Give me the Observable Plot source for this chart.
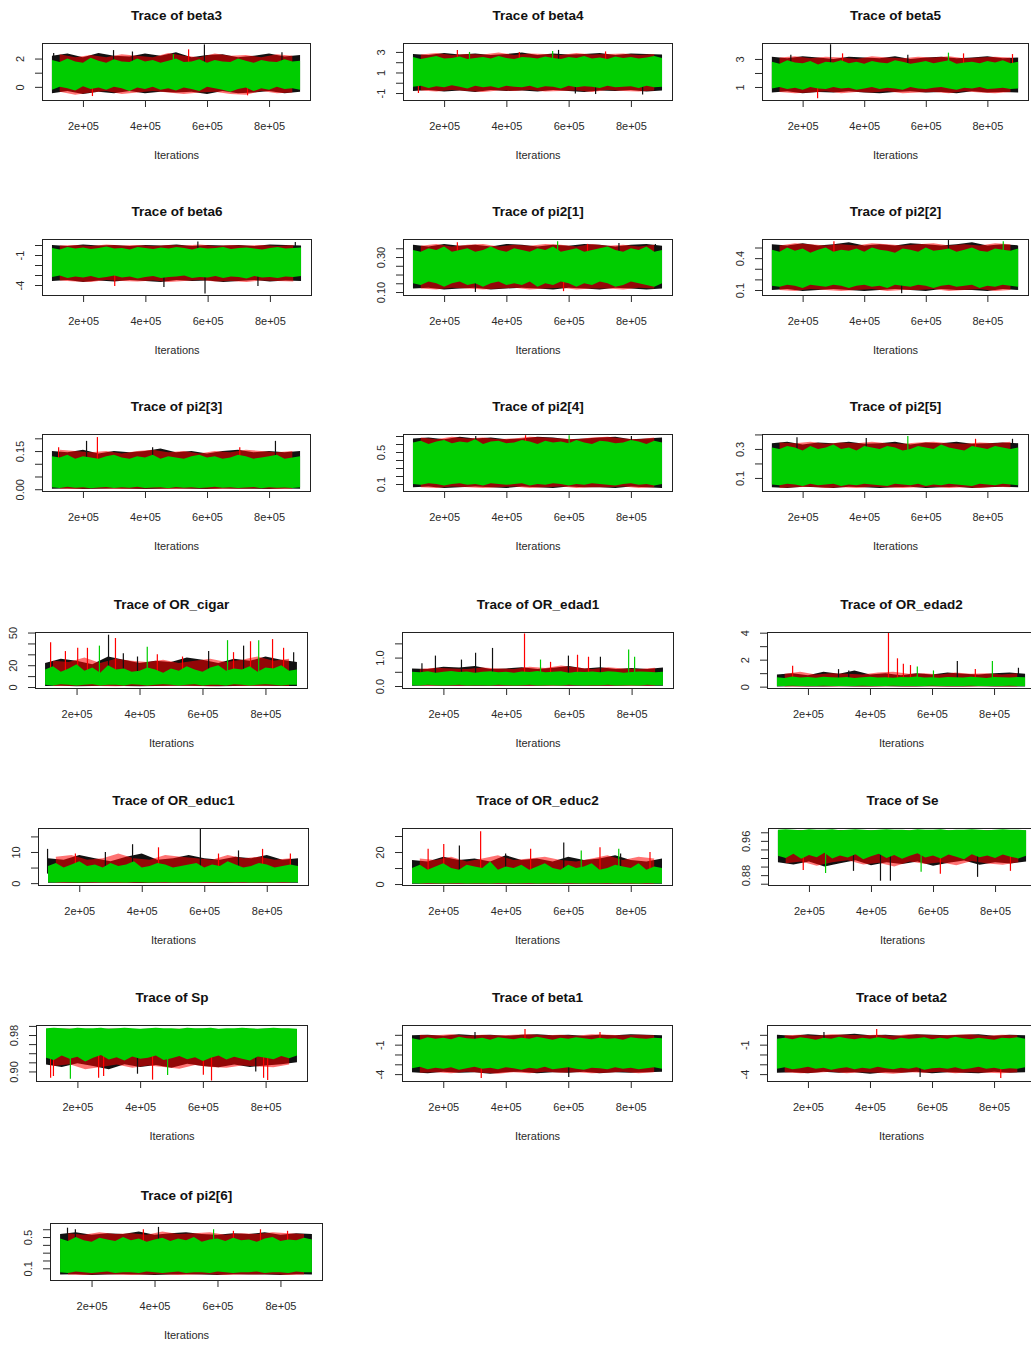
<!DOCTYPE html>
<html><head><meta charset="utf-8">
<script src="https://cdn.jsdelivr.net/npm/d3@7"></script>
<script src="https://cdn.jsdelivr.net/npm/@observablehq/plot@0.6"></script>
<style>
html,body{margin:0;padding:0;background:#fff}
body{width:1031px;height:1345px;overflow:hidden;position:relative;font-family:"Liberation Sans",Arial,sans-serif}
</style></head><body>
<script>
// ---------- DATA ----------
const titles = ["Trace of beta3","Trace of beta4","Trace of beta5","Trace of beta6","Trace of pi2[1]","Trace of pi2[2]","Trace of pi2[3]","Trace of pi2[4]","Trace of pi2[5]","Trace of OR_cigar","Trace of OR_edad1","Trace of OR_edad2","Trace of OR_educ1","Trace of OR_educ2","Trace of Se","Trace of Sp","Trace of beta1","Trace of beta2","Trace of pi2[6]"];

// iteration positions of the sampled envelope values
const iterGreen = [100000,125000,150000,175000,200000,225000,250000,275000,300000,325000,350000,375000,400000,425000,450000,475000,500000,525000,550000,575000,600000,625000,650000,675000,700000,725000,750000,775000,800000,825000,850000,875000,900000];
const iterBlack = [100000,150000,200000,250000,300000,350000,400000,450000,500000,550000,600000,650000,700000,750000,800000,850000,900000];
const iterRed = [125000,175000,225000,275000,325000,375000,425000,475000,525000,575000,625000,675000,725000,775000,825000,875000];
const xTicks = [200000,400000,600000,800000];
const chainColors = ["#111111","#ff0000","#00cd00"];

const greenHi = [
 [1.9,1.75,2.0,1.8,1.7,2.05,1.85,1.7,1.95,1.8,1.75,2.0,1.8,1.9,1.7,1.85,2.0,1.75,1.8,1.95,1.7,1.9,1.8,1.75,2.0,1.85,1.7,1.9,1.8,1.75,1.95,1.8,1.85],
 [2.5,2.3,2.45,2.6,2.35,2.4,2.55,2.3,2.4,2.5,2.35,2.6,2.4,2.3,2.5,2.45,2.35,2.55,2.4,2.3,2.5,2.4,2.6,2.35,2.45,2.3,2.55,2.4,2.5,2.35,2.45,2.6,2.4],
 [2.8,2.65,2.9,2.75,2.7,2.85,2.6,2.8,2.75,2.9,2.7,2.8,2.65,2.85,2.75,2.7,2.9,2.8,2.65,2.75,2.85,2.7,2.8,2.9,2.65,2.75,2.8,2.7,2.85,2.75,2.9,2.7,2.8],
 [-0.3,-0.45,-0.2,-0.35,-0.25,-0.4,-0.3,-0.15,-0.35,-0.3,-0.45,-0.2,-0.3,-0.4,-0.25,-0.35,-0.2,-0.3,-0.45,-0.25,-0.35,-0.3,-0.2,-0.4,-0.3,-0.25,-0.35,-0.45,-0.3,-0.2,-0.35,-0.3,-0.25],
 [0.34,0.33,0.35,0.34,0.36,0.33,0.34,0.35,0.33,0.34,0.36,0.34,0.33,0.35,0.34,0.33,0.35,0.34,0.36,0.33,0.34,0.35,0.33,0.34,0.35,0.36,0.34,0.33,0.35,0.34,0.36,0.33,0.34],
 [0.48,0.46,0.5,0.47,0.49,0.45,0.48,0.5,0.46,0.48,0.47,0.49,0.46,0.5,0.48,0.47,0.45,0.49,0.48,0.46,0.5,0.47,0.48,0.49,0.46,0.48,0.5,0.47,0.46,0.49,0.48,0.47,0.49],
 [0.13,0.125,0.135,0.12,0.13,0.125,0.12,0.13,0.135,0.125,0.12,0.13,0.125,0.135,0.12,0.13,0.125,0.12,0.13,0.135,0.125,0.13,0.12,0.125,0.135,0.13,0.12,0.125,0.13,0.135,0.12,0.125,0.13],
 [0.62,0.64,0.6,0.63,0.65,0.61,0.63,0.62,0.66,0.6,0.63,0.64,0.61,0.62,0.65,0.63,0.6,0.64,0.62,0.63,0.61,0.65,0.62,0.6,0.64,0.63,0.61,0.62,0.65,0.63,0.6,0.64,0.62],
 [0.31,0.3,0.32,0.31,0.29,0.32,0.3,0.31,0.33,0.3,0.31,0.29,0.32,0.31,0.3,0.32,0.31,0.29,0.3,0.32,0.31,0.3,0.33,0.31,0.3,0.29,0.32,0.31,0.3,0.32,0.31,0.3,0.31],
 [16,19,14,17,21,15,18,13,20,16,17,14,15,18,16,13,17,15,19,16,14,18,20,15,17,16,19,14,18,17,20,15,16],
 [0.5,0.48,0.52,0.47,0.5,0.53,0.49,0.51,0.47,0.5,0.52,0.48,0.5,0.47,0.51,0.49,0.53,0.48,0.5,0.52,0.47,0.5,0.49,0.51,0.48,0.52,0.5,0.47,0.49,0.51,0.5,0.48,0.5],
 [0.7,0.65,0.75,0.68,0.72,0.66,0.74,0.7,0.68,0.72,0.65,0.7,0.74,0.68,0.7,0.66,0.72,0.7,0.75,0.68,0.7,0.66,0.72,0.7,0.68,0.74,0.7,0.65,0.72,0.7,0.68,0.72,0.7],
 [5.5,6.5,5,6,7,5.5,6,5,6.5,5.5,6,7,5,5.5,6.5,6,5,5.5,6,6.5,5,6,5.5,7,6,5,5.5,6.5,6,5,5.5,6,5.5],
 [10,12,9,11,13,10,9,12,11,10,14,9,11,10,12,9,11,13,10,9,12,10,11,13,9,10,12,11,10,13,9,11,10],
 [0.986,0.987,0.986,0.985,0.987,0.986,0.986,0.987,0.985,0.986,0.987,0.986,0.985,0.986,0.987,0.986,0.986,0.985,0.987,0.986,0.986,0.987,0.985,0.986,0.986,0.987,0.986,0.985,0.986,0.987,0.986,0.986,0.985],
 [0.995,0.996,0.995,0.994,0.996,0.995,0.995,0.996,0.994,0.995,0.996,0.995,0.994,0.995,0.996,0.995,0.995,0.994,0.996,0.995,0.995,0.996,0.994,0.995,0.995,0.996,0.995,0.994,0.995,0.996,0.995,0.995,0.994],
 [-0.35,-0.5,-0.25,-0.4,-0.3,-0.45,-0.2,-0.35,-0.4,-0.3,-0.5,-0.25,-0.35,-0.45,-0.3,-0.4,-0.2,-0.35,-0.5,-0.3,-0.4,-0.25,-0.35,-0.45,-0.3,-0.4,-0.35,-0.5,-0.25,-0.35,-0.4,-0.3,-0.35],
 [-0.4,-0.3,-0.45,-0.25,-0.35,-0.5,-0.3,-0.4,-0.2,-0.35,-0.45,-0.3,-0.4,-0.25,-0.35,-0.5,-0.3,-0.4,-0.35,-0.25,-0.45,-0.3,-0.4,-0.2,-0.35,-0.45,-0.3,-0.4,-0.5,-0.3,-0.35,-0.25,-0.4],
 [0.48,0.45,0.5,0.46,0.44,0.49,0.47,0.45,0.5,0.46,0.48,0.44,0.47,0.49,0.45,0.48,0.46,0.5,0.44,0.47,0.48,0.45,0.49,0.46,0.47,0.44,0.48,0.5,0.45,0.47,0.46,0.49,0.47]
];
const greenLo = [
 [-0.2,0.0,-0.1,-0.25,0.05,-0.15,-0.05,-0.2,0.0,-0.1,-0.3,-0.05,-0.15,0.0,-0.2,-0.1,-0.25,-0.05,-0.15,-0.3,0.0,-0.1,-0.2,-0.35,-0.15,-0.05,-0.3,-0.1,-0.2,0.0,-0.15,-0.1,-0.2],
 [-0.4,-0.3,-0.5,-0.35,-0.45,-0.25,-0.4,-0.55,-0.3,-0.45,-0.35,-0.5,-0.3,-0.4,-0.45,-0.3,-0.5,-0.35,-0.4,-0.55,-0.3,-0.45,-0.35,-0.4,-0.5,-0.3,-0.45,-0.4,-0.35,-0.5,-0.3,-0.45,-0.4],
 [0.9,1.0,0.85,0.95,0.8,1.0,0.9,0.85,1.0,0.9,0.95,0.8,0.9,1.0,0.85,0.95,0.9,0.8,1.0,0.9,0.85,0.95,1.0,0.9,0.8,0.95,0.9,1.0,0.85,0.9,0.95,0.85,0.9],
 [-3.2,-3.05,-3.3,-3.15,-3.25,-3.1,-3.3,-3.2,-3.05,-3.25,-3.15,-3.35,-3.2,-3.1,-3.3,-3.2,-3.15,-3.05,-3.3,-3.2,-3.25,-3.1,-3.3,-3.15,-3.2,-3.35,-3.1,-3.25,-3.2,-3.3,-3.15,-3.2,-3.1],
 [0.15,0.14,0.16,0.15,0.13,0.15,0.16,0.14,0.15,0.13,0.15,0.16,0.14,0.15,0.14,0.16,0.13,0.15,0.14,0.16,0.15,0.13,0.15,0.14,0.16,0.15,0.13,0.14,0.16,0.15,0.14,0.13,0.15],
 [0.14,0.13,0.15,0.14,0.12,0.15,0.14,0.13,0.15,0.14,0.12,0.14,0.15,0.13,0.14,0.12,0.15,0.14,0.13,0.15,0.14,0.12,0.14,0.15,0.13,0.14,0.15,0.12,0.14,0.13,0.15,0.14,0.13],
 [0.008,0.005,0.01,0.006,0.008,0.004,0.007,0.009,0.005,0.008,0.006,0.01,0.005,0.007,0.008,0.004,0.009,0.006,0.008,0.005,0.007,0.01,0.006,0.008,0.005,0.007,0.009,0.004,0.008,0.006,0.007,0.005,0.008],
 [0.1,0.09,0.11,0.1,0.08,0.1,0.11,0.09,0.1,0.08,0.11,0.1,0.09,0.1,0.11,0.08,0.1,0.09,0.11,0.1,0.08,0.1,0.09,0.11,0.1,0.09,0.08,0.1,0.11,0.09,0.1,0.08,0.1],
 [0.055,0.05,0.06,0.055,0.045,0.06,0.05,0.055,0.06,0.045,0.055,0.05,0.06,0.055,0.05,0.045,0.06,0.055,0.05,0.06,0.045,0.055,0.05,0.06,0.055,0.05,0.045,0.06,0.055,0.05,0.06,0.055,0.05],
 [2,1.5,2.5,2,1.5,2,2.5,1.5,2,2,1.5,2.5,2,1.5,2,2.5,2,1.5,2,2.5,1.5,2,2,1.5,2.5,2,1.5,2,2.5,2,1.5,2,2],
 [0.03,0.02,0.04,0.03,0.02,0.03,0.04,0.02,0.03,0.03,0.02,0.04,0.03,0.02,0.03,0.04,0.02,0.03,0.03,0.02,0.04,0.03,0.02,0.03,0.03,0.04,0.02,0.03,0.03,0.02,0.04,0.03,0.03],
 [0.05,0.04,0.06,0.05,0.04,0.05,0.06,0.04,0.05,0.05,0.04,0.06,0.05,0.04,0.05,0.06,0.04,0.05,0.05,0.04,0.06,0.05,0.04,0.05,0.05,0.06,0.04,0.05,0.05,0.04,0.06,0.05,0.05],
 [0.3,0.2,0.4,0.3,0.2,0.3,0.4,0.2,0.3,0.3,0.2,0.4,0.3,0.2,0.3,0.4,0.2,0.3,0.3,0.2,0.4,0.3,0.2,0.3,0.3,0.4,0.2,0.3,0.3,0.2,0.4,0.3,0.3],
 [0.5,0.4,0.6,0.5,0.4,0.5,0.6,0.4,0.5,0.5,0.4,0.6,0.5,0.4,0.5,0.6,0.4,0.5,0.5,0.4,0.6,0.5,0.4,0.5,0.5,0.6,0.4,0.5,0.5,0.4,0.6,0.5,0.5],
 [0.925,0.92,0.93,0.918,0.927,0.922,0.932,0.919,0.926,0.921,0.929,0.917,0.924,0.93,0.92,0.927,0.918,0.925,0.931,0.921,0.926,0.919,0.928,0.923,0.917,0.929,0.922,0.926,0.92,0.928,0.923,0.919,0.925],
 [0.93,0.925,0.935,0.928,0.932,0.922,0.93,0.936,0.926,0.931,0.924,0.933,0.928,0.93,0.935,0.925,0.929,0.934,0.927,0.931,0.923,0.93,0.935,0.926,0.932,0.928,0.924,0.933,0.93,0.927,0.934,0.929,0.935],
 [-3.4,-3.25,-3.5,-3.35,-3.45,-3.3,-3.55,-3.4,-3.25,-3.45,-3.35,-3.5,-3.3,-3.4,-3.55,-3.35,-3.45,-3.25,-3.5,-3.4,-3.3,-3.45,-3.55,-3.35,-3.4,-3.5,-3.3,-3.45,-3.35,-3.5,-3.4,-3.3,-3.45],
 [-3.45,-3.3,-3.5,-3.4,-3.25,-3.45,-3.35,-3.55,-3.4,-3.3,-3.5,-3.35,-3.45,-3.25,-3.4,-3.5,-3.35,-3.45,-3.3,-3.55,-3.4,-3.35,-3.45,-3.3,-3.5,-3.4,-3.25,-3.45,-3.35,-3.5,-3.4,-3.45,-3.3],
 [0.05,0.04,0.06,0.05,0.04,0.05,0.06,0.04,0.05,0.05,0.04,0.06,0.05,0.04,0.05,0.06,0.04,0.05,0.05,0.04,0.06,0.05,0.04,0.05,0.05,0.06,0.04,0.05,0.05,0.04,0.06,0.05,0.05]
];
const blackHi = [
 [2.2,2.35,2.1,2.4,2.2,2.15,2.35,2.2,2.45,2.1,2.25,2.3,2.1,2.2,2.35,2.15,2.25],
 [2.8,2.7,2.9,2.75,2.85,2.7,2.8,2.95,2.7,2.85,2.75,2.8,2.9,2.7,2.85,2.8,2.75],
 [3.15,3.05,3.2,3.1,3.0,3.15,3.1,3.05,3.2,3.0,3.1,3.15,3.05,3.1,3.2,3.05,3.1],
 [0.0,-0.1,0.05,-0.05,0.0,-0.1,0.0,-0.05,0.05,-0.1,0.0,-0.05,0.0,-0.1,0.05,0.0,-0.05],
 [0.37,0.36,0.375,0.365,0.37,0.36,0.375,0.37,0.36,0.37,0.365,0.375,0.37,0.36,0.37,0.375,0.365],
 [0.53,0.52,0.54,0.52,0.53,0.55,0.52,0.53,0.52,0.54,0.53,0.52,0.53,0.55,0.52,0.53,0.52],
 [0.15,0.145,0.155,0.14,0.15,0.145,0.15,0.16,0.145,0.15,0.14,0.15,0.155,0.145,0.15,0.145,0.15],
 [0.67,0.68,0.66,0.69,0.67,0.68,0.66,0.67,0.69,0.68,0.66,0.67,0.68,0.69,0.66,0.67,0.68],
 [0.34,0.35,0.33,0.345,0.34,0.35,0.335,0.34,0.35,0.33,0.345,0.34,0.35,0.335,0.34,0.345,0.34],
 [22,26,24,21,28,25,22,24,23,27,25,22,26,24,28,25,23],
 [0.62,0.6,0.68,0.65,0.7,0.6,0.62,0.66,0.6,0.64,0.7,0.62,0.66,0.6,0.63,0.6,0.65],
 [0.9,1.0,0.85,1.1,0.95,1.2,0.9,1.0,0.85,1.0,0.9,1.05,0.95,0.9,1.0,1.05,0.95],
 [8,7.5,9,8,7,8.5,9.5,7.5,8,9,8,7.5,8.5,8,9,7.5,8],
 [15,14,17,15,16,14,18,15,16,14,17,15,16,18,15,14,16],
 [0.984,0.985,0.984,0.983,0.985,0.984,0.984,0.985,0.983,0.984,0.985,0.984,0.983,0.984,0.985,0.984,0.984],
 [0.993,0.994,0.993,0.992,0.994,0.993,0.993,0.994,0.992,0.993,0.994,0.993,0.992,0.993,0.994,0.993,0.993],
 [-0.05,0.0,-0.1,0.05,-0.05,0.0,-0.1,0.0,0.05,-0.05,0.0,-0.1,0.0,-0.05,0.05,0.0,-0.05],
 [0.0,-0.1,0.05,-0.05,0.0,0.1,-0.05,0.0,-0.1,0.05,0.0,-0.05,0.0,0.05,-0.1,0.0,-0.05],
 [0.54,0.56,0.53,0.55,0.54,0.57,0.53,0.55,0.56,0.54,0.53,0.55,0.54,0.56,0.53,0.55,0.54]
];
const blackLo = [
 [-0.45,-0.3,-0.5,-0.35,-0.45,-0.3,-0.45,-0.35,-0.4,-0.35,-0.5,-0.3,-0.45,-0.4,-0.3,-0.45,-0.35],
 [-0.8,-0.7,-0.85,-0.75,-0.9,-0.7,-0.8,-0.75,-0.85,-0.7,-0.8,-0.9,-0.75,-0.8,-0.7,-0.85,-0.75],
 [0.6,0.7,0.55,0.65,0.6,0.7,0.6,0.55,0.65,0.7,0.6,0.65,0.55,0.7,0.6,0.65,0.6],
 [-3.6,-3.5,-3.7,-3.55,-3.65,-3.5,-3.6,-3.7,-3.5,-3.6,-3.55,-3.7,-3.6,-3.5,-3.65,-3.55,-3.6],
 [0.12,0.125,0.115,0.12,0.125,0.115,0.12,0.125,0.12,0.115,0.125,0.12,0.115,0.125,0.12,0.115,0.12],
 [0.1,0.11,0.09,0.1,0.11,0.1,0.09,0.1,0.11,0.1,0.09,0.11,0.1,0.1,0.09,0.11,0.1],
 [0.002,0.003,0.001,0.002,0.003,0.002,0.001,0.002,0.003,0.002,0.001,0.003,0.002,0.002,0.001,0.003,0.002],
 [0.06,0.07,0.05,0.06,0.07,0.06,0.05,0.07,0.06,0.05,0.07,0.06,0.06,0.05,0.07,0.06,0.05],
 [0.035,0.03,0.04,0.035,0.03,0.04,0.035,0.03,0.035,0.04,0.03,0.035,0.04,0.03,0.035,0.04,0.035],
 [1,1.2,0.8,1,1.2,1,0.8,1,1.1,1.2,1,0.8,1,1.1,1.2,1,0.9],
 [0.01,0.015,0.008,0.01,0.012,0.01,0.008,0.012,0.01,0.015,0.01,0.008,0.012,0.01,0.015,0.01,0.01],
 [0.02,0.025,0.015,0.02,0.03,0.02,0.015,0.025,0.02,0.02,0.03,0.015,0.02,0.025,0.02,0.015,0.02],
 [0.1,0.12,0.08,0.1,0.12,0.1,0.08,0.1,0.11,0.12,0.1,0.08,0.1,0.11,0.12,0.1,0.09],
 [0.2,0.25,0.15,0.2,0.25,0.2,0.15,0.2,0.22,0.25,0.2,0.15,0.2,0.22,0.25,0.2,0.18],
 [0.91,0.905,0.912,0.9,0.908,0.915,0.903,0.91,0.906,0.912,0.902,0.909,0.914,0.904,0.91,0.907,0.912],
 [0.915,0.91,0.918,0.912,0.905,0.916,0.91,0.914,0.908,0.917,0.912,0.909,0.915,0.91,0.913,0.916,0.92],
 [-3.8,-3.9,-3.75,-3.85,-3.8,-3.95,-3.8,-3.75,-3.9,-3.8,-3.85,-3.75,-3.9,-3.8,-3.85,-3.8,-3.75],
 [-3.85,-3.8,-3.9,-3.75,-3.85,-3.8,-3.95,-3.8,-3.85,-3.75,-3.9,-3.8,-3.85,-3.9,-3.75,-3.85,-3.8],
 [0.02,0.025,0.015,0.02,0.025,0.02,0.015,0.02,0.025,0.02,0.015,0.025,0.02,0.02,0.015,0.025,0.02]
];
const redHi = [
 [2.3,2.1,2.25,2.1,2.3,2.2,2.1,2.4,2.2,2.1,2.35,2.2,2.25,2.1,2.3,2.2],
 [2.75,2.9,2.7,2.8,2.75,2.95,2.7,2.85,2.8,2.7,2.9,2.75,2.8,2.85,2.7,2.8],
 [3.1,3.2,3.05,3.15,3.1,3.0,3.2,3.1,3.05,3.15,3.1,3.2,3.05,3.1,3.15,3.1],
 [-0.05,0.0,-0.1,0.05,-0.05,0.0,-0.1,0.0,-0.05,0.05,-0.1,0.0,-0.05,0.0,-0.1,0.0],
 [0.365,0.375,0.36,0.37,0.375,0.36,0.37,0.365,0.375,0.37,0.36,0.375,0.365,0.37,0.36,0.37],
 [0.52,0.54,0.53,0.52,0.53,0.52,0.54,0.53,0.52,0.53,0.54,0.52,0.53,0.52,0.54,0.53],
 [0.155,0.15,0.145,0.15,0.14,0.15,0.155,0.145,0.15,0.14,0.15,0.145,0.155,0.15,0.145,0.15],
 [0.68,0.66,0.69,0.67,0.68,0.66,0.67,0.69,0.68,0.67,0.66,0.68,0.69,0.67,0.66,0.68],
 [0.345,0.34,0.35,0.335,0.345,0.34,0.35,0.34,0.335,0.345,0.35,0.34,0.335,0.345,0.34,0.35],
 [24,23,27,22,26,24,23,25,22,24,26,23,25,28,24,26],
 [0.6,0.64,0.62,0.6,0.65,0.62,0.6,0.68,0.63,0.72,0.65,0.6,0.66,0.62,0.6,0.64],
 [0.95,1.1,0.9,1.0,0.95,0.9,1.05,1.1,0.95,1.0,0.9,1.05,0.95,1.0,0.9,1.0],
 [8.5,9,7.5,8,9.5,8,7.5,9,8.5,8,7.5,9,8,8.5,7.5,8],
 [16,15,17,14,16,18,15,16,17,15,14,16,18,15,17,16],
 [0.984,0.985,0.983,0.984,0.985,0.984,0.983,0.984,0.985,0.984,0.984,0.983,0.985,0.984,0.984,0.985],
 [0.993,0.994,0.992,0.993,0.994,0.993,0.992,0.993,0.994,0.993,0.993,0.992,0.994,0.993,0.993,0.994],
 [0.0,-0.05,0.05,-0.1,0.0,-0.05,0.0,0.05,-0.05,0.0,-0.1,0.05,0.0,-0.05,0.0,-0.05],
 [-0.05,0.0,-0.1,0.05,0.0,-0.05,0.0,-0.1,0.05,0.0,-0.05,0.0,0.05,-0.1,0.0,-0.05],
 [0.55,0.53,0.56,0.54,0.55,0.53,0.57,0.54,0.55,0.56,0.53,0.55,0.54,0.56,0.55,0.54]
];
const redLo = [
 [-0.35,-0.55,-0.4,-0.3,-0.5,-0.4,-0.3,-0.4,-0.5,-0.4,-0.35,-0.5,-0.55,-0.3,-0.45,-0.4],
 [-0.75,-0.85,-0.7,-0.8,-0.9,-0.75,-0.8,-0.7,-0.85,-0.8,-0.75,-0.9,-0.7,-0.8,-0.85,-0.75],
 [0.65,0.55,0.6,0.7,0.55,0.65,0.6,0.7,0.55,0.6,0.65,0.55,0.7,0.6,0.55,0.65],
 [-3.55,-3.65,-3.7,-3.5,-3.6,-3.65,-3.55,-3.7,-3.6,-3.5,-3.65,-3.6,-3.7,-3.55,-3.6,-3.65],
 [0.12,0.115,0.125,0.12,0.115,0.12,0.125,0.115,0.12,0.125,0.115,0.12,0.12,0.115,0.125,0.12],
 [0.1,0.09,0.11,0.1,0.09,0.1,0.11,0.09,0.1,0.1,0.11,0.09,0.1,0.11,0.09,0.1],
 [0.002,0.001,0.003,0.002,0.001,0.002,0.003,0.001,0.002,0.003,0.001,0.002,0.002,0.003,0.001,0.002],
 [0.06,0.05,0.07,0.06,0.05,0.06,0.07,0.05,0.06,0.07,0.05,0.06,0.06,0.07,0.05,0.06],
 [0.03,0.035,0.04,0.03,0.035,0.03,0.04,0.035,0.03,0.035,0.04,0.03,0.035,0.03,0.04,0.035],
 [1,0.9,1.2,1,0.8,1.1,1,0.9,1.2,1,0.8,1.1,1,0.9,1.2,1],
 [0.01,0.012,0.008,0.01,0.015,0.01,0.012,0.008,0.01,0.012,0.015,0.01,0.008,0.01,0.012,0.01],
 [0.02,0.015,0.025,0.02,0.03,0.02,0.015,0.025,0.02,0.03,0.02,0.015,0.02,0.025,0.02,0.02],
 [0.1,0.09,0.12,0.1,0.08,0.11,0.1,0.09,0.12,0.1,0.08,0.11,0.1,0.09,0.12,0.1],
 [0.2,0.18,0.25,0.2,0.15,0.22,0.2,0.18,0.25,0.2,0.15,0.22,0.2,0.18,0.25,0.2],
 [0.908,0.912,0.902,0.91,0.915,0.905,0.909,0.9,0.912,0.906,0.91,0.903,0.913,0.907,0.904,0.91],
 [0.912,0.916,0.905,0.91,0.915,0.908,0.913,0.91,0.906,0.914,0.91,0.908,0.913,0.911,0.909,0.915],
 [-3.85,-3.8,-3.9,-3.75,-3.85,-3.95,-3.8,-3.9,-3.75,-3.85,-3.8,-3.9,-3.85,-3.75,-3.9,-3.8],
 [-3.8,-3.9,-3.85,-3.75,-3.9,-3.8,-3.85,-3.95,-3.8,-3.85,-3.75,-3.9,-3.8,-3.85,-3.9,-3.8],
 [0.02,0.015,0.025,0.02,0.015,0.02,0.025,0.015,0.02,0.025,0.015,0.02,0.02,0.025,0.015,0.02]
];
// spikes: [chain (0 black, 1 red, 2 green), iteration, extreme value]
const spikes = [
 [[0,297e3,2.6],[0,358e3,2.5],[1,539e3,2.65],[0,590e3,3.0],[2,490e3,2.3],[1,229e3,-0.65],[1,729e3,-0.6],[0,840e3,2.45],[0,104e3,2.4]],
 [[1,241e3,3.2],[2,280e3,3.0],[2,547e3,3.1],[0,566e3,3.2],[1,717e3,3.05],[0,685e3,-1.1],[0,836e3,-1.15],[1,116e3,-1.0],[1,440e3,3.0],[0,620e3,-1.05]],
 [[1,247e3,0.2],[1,328e3,3.4],[2,672e3,3.45],[1,721e3,3.4],[1,880e3,3.35],[0,289e3,4.05],[0,160e3,3.3],[0,540e3,3.3]],
 [[0,590e3,-4.85],[0,458e3,-4.2],[0,567e3,0.35],[1,300e3,-4.1],[0,760e3,-4.1],[0,880e3,0.3]],
 [[1,241e3,0.385],[2,563e3,0.39],[1,659e3,0.375],[0,877e3,0.375],[0,299e3,0.1],[1,582e3,0.105],[0,760e3,0.38]],
 [[0,672e3,0.57],[1,300e3,0.56],[2,850e3,0.56],[0,520e3,0.07]],
 [[1,245e3,0.205],[0,210e3,0.19],[0,819e3,0.19],[1,704e3,0.165],[0,423e3,0.165],[1,120e3,0.165]],
 [[1,460e3,0.71],[2,600e3,0.71],[0,800e3,0.7],[0,300e3,0.7]],
 [[0,180e3,0.38],[2,540e3,0.39],[1,760e3,0.37],[0,880e3,0.37],[0,405e3,0.375]],
 [[1,116e3,41],[1,163e3,33],[1,202e3,36],[1,233e3,36],[2,271e3,38],[0,300e3,48],[1,322e3,45],[0,347e3,31],[0,392e3,28],[2,423e3,37],[1,455e3,30],[1,535e3,28],[0,618e3,33],[2,678e3,43],[1,697e3,32],[0,729e3,38],[1,751e3,42],[2,777e3,43],[1,821e3,44],[1,856e3,36],[0,888e3,32]],
 [[0,173e3,1.07],[0,256e3,0.93],[0,301e3,1.17],[0,355e3,1.34],[1,457e3,1.85],[2,508e3,0.93],[0,597e3,1.07],[1,626e3,1.1],[1,661e3,1.03],[0,699e3,1.03],[2,789e3,1.28],[2,808e3,1.03],[0,130e3,0.8],[1,540e3,0.85]],
 [[1,458e3,4.0],[1,149e3,1.55],[0,297e3,1.3],[1,487e3,2.1],[1,506e3,1.7],[1,529e3,1.6],[2,551e3,1.5],[0,680e3,1.9],[2,793e3,1.9],[1,738e3,1.3],[0,877e3,1.4],[2,603e3,1.2],[0,330e3,1.2]],
 [[0,97e3,11],[1,186e3,9.5],[0,282e3,10],[0,369e3,12.5],[1,452e3,11.5],[0,586e3,17.5],[1,644e3,9.5],[0,708e3,10.5],[1,785e3,11],[1,874e3,9.5]],
 [[1,318e3,33],[0,584e3,26],[1,150e3,22],[1,200e3,25],[0,398e3,19],[1,478e3,22],[2,760e3,22],[0,766e3,19],[1,860e3,20],[0,250e3,24],[2,640e3,21],[1,700e3,23]],
 [[0,429e3,0.867],[0,461e3,0.867],[0,742e3,0.876],[1,622e3,0.883],[2,252e3,0.885],[1,848e3,0.89],[0,342e3,0.89],[1,180e3,0.892],[2,560e3,0.888]],
 [[1,113e3,0.886],[1,122e3,0.89],[2,176e3,0.884],[1,266e3,0.886],[1,282e3,0.89],[0,390e3,0.895],[1,438e3,0.882],[2,486e3,0.892],[1,600e3,0.893],[1,626e3,0.88],[1,792e3,0.886],[1,805e3,0.881],[0,767e3,0.9]],
 [[1,460e3,0.6],[0,300e3,0.3],[1,700e3,0.3],[1,320e3,-4.4],[0,600e3,-4.3]],
 [[1,420e3,0.6],[0,250e3,0.3],[1,820e3,-4.4],[0,560e3,-4.3]],
 [[0,122e3,0.62],[0,147e3,0.6],[1,363e3,0.6],[0,411e3,0.63],[2,586e3,0.6],[1,649e3,0.58],[1,735e3,0.6],[1,821e3,0.58]]
];
const yDomains = [[-0.93,3.1],[-1.68,3.87],[0.07,4.14],[-5,0.6],[0.083,0.403],[0.053,0.58],[-0.007,0.217],[0.0125,0.725],[0.01,0.403],[-0.9,50.5],[-0.07,1.9],[-0.1,4.05],[-0.6,17.7],[-0.6,35],[0.857,0.99],[0.879,1.002],[-4.7,1.0],[-4.7,1.0],[-0.05,0.68]];
const yTicks = [[0,1,2],[-1,0,1,2,3],[1,2,3],[-4,-3,-2,-1,0],[0.1,0.15,0.2,0.25,0.3,0.35],[0.1,0.2,0.3,0.4,0.5],[0,0.05,0.1,0.15,0.2],[0.1,0.2,0.3,0.4,0.5,0.6,0.7],[0.1,0.2,0.3,0.4],[0,10,20,30,40,50],[0,0.5,1,1.5],[0,1,2,3,4],[0,5,10,15],[0,10,20,30],[0.86,0.88,0.9,0.92,0.94,0.96,0.98],[0.9,0.92,0.94,0.96,0.98,1.0],[-4,-3,-2,-1,0],[-4,-3,-2,-1,0],[0.1,0.2,0.3,0.4,0.5,0.6]];
const yTickText = [["0","","2"],["-1","","1","","3"],["1","","3"],["-4","","","-1",""],["0.10","","","","0.30",""],["0.1","","","0.4",""],["0.00","","","0.15",""],["0.1","","","","0.5","",""],["0.1","","0.3",""],["0","","20","","","50"],["0.0","","1.0",""],["0","","2","","4"],["0","","10",""],["0","","20",""],["","0.88","","","","0.96",""],["0.90","","","","0.98",""],["-4","","","-1",""],["-4","","","-1",""],["0.1","","","","0.5",""]];

// ---------- LAYOUT (plot-region frames in page pixels: left, top, right, bottom) ----------
const frames = [
 [42,43,310,100],[403,43,672,100],[762,43,1028,100],
 [42,239,311,295],[403,239,672,295],[762,239,1028,295],
 [42,434,310,491],[403,434,672,491],[762,434,1028,491],
 [35,632,307,688],[402,632,673,688],[767,632,1035,688],
 [38,828,308,885],[402,828,672,885],[768,828,1036,885],
 [36,1025,307,1081],[402,1025,672,1081],[767,1025,1035,1081],
 [50,1223,322,1280]
];
const mL = 42, mR = 4, mT = 40, mB = 66;

titles.forEach((title, i) => {
  const [L, T, R, B] = frames[i];
  const g = iterGreen.map((x, j) => ({x, lo: greenLo[i][j], hi: greenHi[i][j]}));
  const k = iterBlack.map((x, j) => ({x, lo: blackLo[i][j], hi: blackHi[i][j]}));
  const r = iterRed.map((x, j) => ({x, lo: redLo[i][j], hi: redHi[i][j]}));
  const mid = (d3.mean(greenHi[i]) + d3.mean(greenLo[i])) / 2;
  const sp = spikes[i].map(([c, x, v]) => ({c, x, v}));
  const labelMap = new Map(yTicks[i].map((t, j) => [t, yTickText[i][j]]));
  const chart = Plot.plot({
    width: R - L + mL + mR,
    height: B - T + mT + mB,
    marginLeft: mL, marginRight: mR, marginTop: mT, marginBottom: mB,
    style: {fontFamily: "'Liberation Sans', Arial, sans-serif", fontSize: "11px", color: "#2a2a2a", background: "transparent", overflow: "visible"},
    x: {domain: [68000, 932000]},
    y: {domain: yDomains[i]},
    marks: [
      Plot.areaY(k, {x: "x", y1: "lo", y2: "hi", fill: chainColors[0], curve: "linear"}),
      Plot.areaY(r, {x: "x", y1: "lo", y2: "hi", fill: chainColors[1], fillOpacity: 0.55, curve: "linear"}),
      Plot.ruleX(sp, {x: "x", y1: mid, y2: "v", stroke: d => chainColors[d.c], strokeWidth: 1.2}),
      Plot.areaY(g, {x: "x", y1: "lo", y2: "hi", fill: chainColors[2], curve: "linear"}),
      Plot.frame({stroke: "#222"}),
      Plot.axisX({ticks: xTicks, tickFormat: d => `${d / 1e5}e+05`, tickSize: 7, tickPadding: 15, label: null}),
      Plot.axisY({ticks: yTicks[i], tickFormat: d => labelMap.get(d) ?? "", tickRotate: -90, tickSize: 7, tickPadding: 12, label: null}),
      Plot.text([title], {frameAnchor: "top", lineAnchor: "middle", dy: -28, fontWeight: "bold", fontSize: 13.5, fill: "#111"}),
      Plot.text(["Iterations"], {frameAnchor: "bottom", lineAnchor: "middle", dy: 55, fontSize: 11, fill: "#2a2a2a"})
    ]
  });
  chart.style.position = "absolute";
  chart.style.left = (L - mL) + "px";
  chart.style.top = (T - mT) + "px";
  document.body.appendChild(chart);
});
</script>
</body></html>
